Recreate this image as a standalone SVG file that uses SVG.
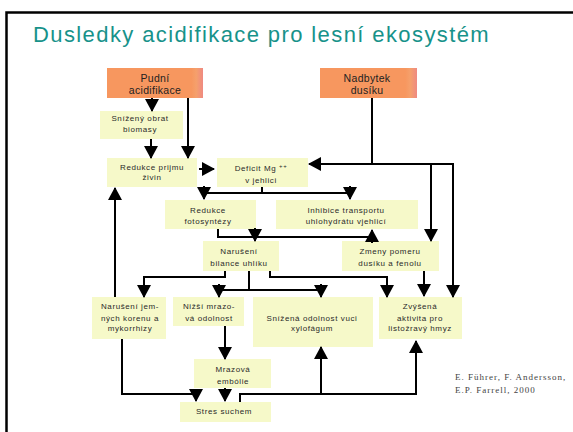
<svg xmlns="http://www.w3.org/2000/svg" width="573" height="432" viewBox="0 0 573 432">
<defs>
<marker id="ah" markerUnits="userSpaceOnUse" markerWidth="14" markerHeight="14" refX="12" refY="7" orient="auto" viewBox="0 0 13 14">
<path d="M0,0 L13,7 L0,14 z" fill="#000"/>
</marker>
<linearGradient id="og" x1="0" y1="0" x2="1" y2="0">
<stop offset="0" stop-color="#f7975f"/>
<stop offset="0.88" stop-color="#f7975f"/>
<stop offset="0.93" stop-color="#f5a06c"/>
<stop offset="1" stop-color="#ef8a82"/>
</linearGradient>
</defs>
<style>
.t{font-family:"Liberation Sans",Arial,sans-serif;font-size:8px;fill:#2a2a2a;text-anchor:middle;letter-spacing:0.6px}
.to{font-family:"Liberation Sans",Arial,sans-serif;font-size:10.5px;fill:#222;text-anchor:middle;letter-spacing:0.3px}
.b{fill:#f6f9c9}
.o{fill:url(#og)}
.c path{fill:none;stroke:#000;stroke-width:2}
.a{marker-end:url(#ah)}
</style>
<rect width="573" height="432" fill="#fff"/>
<path d="M6.5,432 V12.5 H573" fill="none" stroke="#000" stroke-width="2.5"/>
<text x="33" y="42" font-family="'Liberation Sans',Arial,sans-serif" font-size="22" fill="#17928a" letter-spacing="1.4">Dusledky acidifikace pro lesní ekosystém</text>

<g id="pudni"><rect class="o" x="107" y="68" width="96" height="30"/><text class="to" x="155" y="82">Pudní</text><text class="to" x="155" y="94">acidifikace</text></g>
<g id="nadbytek"><rect class="o" x="320" y="68" width="97" height="30"/><text class="to" x="367" y="82">Nadbytek</text><text class="to" x="367" y="94">dusíku</text></g>
<g id="snizeny"><rect class="b" x="100" y="111" width="83" height="28"/><text class="t" x="140" y="121">Snížený obrat</text><text class="t" x="140" y="132">biomasy</text></g>
<g id="redukce-prijmu"><rect class="b" x="107" y="158" width="90" height="29"/><text class="t" x="152" y="170">Redukce prijmu</text><text class="t" x="152" y="180">živin</text></g>
<g id="deficit"><rect class="b" x="217" y="158" width="91" height="29"/><text class="t" x="261" y="171">Deficit Mg <tspan font-size="6" dy="-3">++</tspan></text><text class="t" x="261" y="183">v jehlici</text></g>
<g id="redukce-foto"><rect class="b" x="165" y="200" width="91" height="29"/><text class="t" x="208" y="213">Redukce</text><text class="t" x="208" y="224">fotosyntézy</text></g>
<g id="inhibice"><rect class="b" x="276" y="200" width="142" height="29"/><text class="t" x="346" y="213">Inhibice transportu</text><text class="t" x="346" y="224">uhlohydrátu vjehlicí</text></g>
<g id="naruseni-bilance"><rect class="b" x="203" y="241" width="76" height="30"/><text class="t" x="239" y="254">Narušení</text><text class="t" x="239" y="266">bilance uhlíku</text></g>
<g id="zmeny"><rect class="b" x="342" y="241" width="97" height="30"/><text class="t" x="390" y="254">Zmeny pomeru</text><text class="t" x="390" y="266">dusíku a fenolu</text></g>
<g id="naruseni-korenu"><rect class="b" x="92" y="297" width="74" height="42"/><text class="t" x="130" y="309">Narušení jem-</text><text class="t" x="130" y="321">ných korenu a</text><text class="t" x="130" y="331">mykorrhizy</text></g>
<g id="nizsi"><rect class="b" x="173" y="297" width="71" height="29"/><text class="t" x="209" y="309">Nižší mrazo-</text><text class="t" x="209" y="321">vá odolnost</text></g>
<g id="snizena"><rect class="b" x="253" y="297" width="120" height="50"/><text class="t" x="312" y="321">Snížená odolnost vuci</text><text class="t" x="312" y="331">xylofágum</text></g>
<g id="zvysena"><rect class="b" x="379" y="297" width="83" height="42"/><text class="t" x="420" y="309">Zvýšená</text><text class="t" x="420" y="321">aktivita pro</text><text class="t" x="420" y="331">listožravý hmyz</text></g>
<g id="mrazova"><rect class="b" x="194" y="359" width="77" height="29"/><text class="t" x="233" y="372">Mrazová</text><text class="t" x="233" y="384">embólie</text></g>
<g id="stres"><rect class="b" x="180" y="402" width="91" height="20"/><text class="t" x="224" y="414">Stres suchem</text></g>

<g class="c" id="connectors">
<path class="a" d="M152,98 V111"/>
<path class="a" d="M188,98 V158"/>
<path class="a" d="M151,139 V158"/>
<path class="a" d="M199,169 H214"/>
<path class="a" d="M372,98 V164 H309"/>
<path class="a" d="M372,164 H453 V297"/>
<path class="a" d="M431,164 V241"/>
<path d="M262,187 V193 M204,193 H350"/>
<path class="a" d="M204,186 V199"/>
<path class="a" d="M350,186 V199"/>
<path d="M218,229 V237 H372"/>
<path class="a" d="M255,228 V241"/>
<path class="a" d="M372,243 V230"/>
<path class="a" d="M225,271 V277 H144 V297"/>
<path d="M249,271 V290 M219,290 H321"/>
<path class="a" d="M219,284 V297"/>
<path class="a" d="M321,284 V297"/>
<path class="a" d="M270,271 V277 H387 V297"/>
<path class="a" d="M424,271 V296"/>
<path class="a" d="M115,297 V188"/>
<path class="a" d="M225,326 V359"/>
<path class="a" d="M122,339 V394 H196 V401"/>
<path class="a" d="M225,388 V401"/>
<path class="a" d="M240,402 V394 H416 V341"/>
<path class="a" d="M321,394 V347"/>
</g>

<g id="citation" font-family="'Liberation Serif','Times New Roman',serif" font-size="9" fill="#444" letter-spacing="1">
<text x="455" y="380">E. Führer, F. Andersson,</text>
<text x="455" y="393">E.P. Farrell, 2000</text>
</g>
</svg>
